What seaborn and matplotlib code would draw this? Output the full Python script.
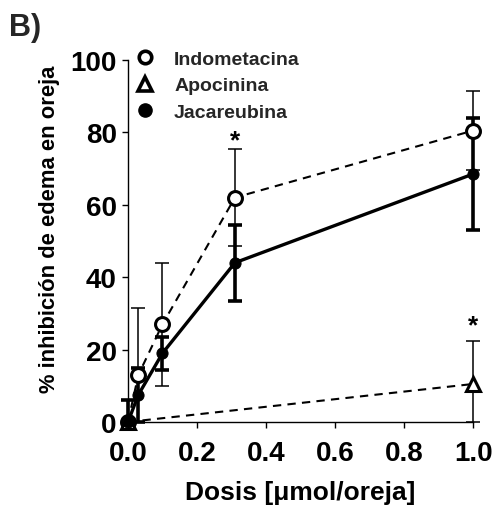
import matplotlib
matplotlib.use("Agg")
import matplotlib.pyplot as plt
import seaborn as sns
import pandas as pd
from matplotlib.lines import Line2D

sns.set_theme(style="ticks")
plt.rcParams['font.family'] = ['Liberation Sans', 'DejaVu Sans']
plt.rcParams['font.weight'] = 'bold'

series = ["Indometacina", "Apocinina", "Jacareubina"]
indo_x = [0.0, 0.03, 0.1, 0.31, 1.0]
indo_y = [0.0, 13.0, 27.0, 62.0, 80.5]
indo_err = [0.0, 18.5, 17.0, 13.5, 11.0]
apo_x = [0.0, 1.0]
apo_y = [0.0, 10.5]
apo_err = [0.0, 11.8]
jac_x = [0.0, 0.03, 0.1, 0.31, 1.0]
jac_y = [0.0, 7.5, 19.0, 44.0, 68.5]
jac_err = [6.0, 7.5, 4.5, 10.5, 15.5]
star_x = [0.31, 1.0]
star_y = [74.5, 23.5]
xticks = [0.0, 0.2, 0.4, 0.6, 0.8, 1.0]
xtick_labels = ["0.0", "0.2", "0.4", "0.6", "0.8", "1.0"]
yticks = [0, 20, 40, 60, 80, 100]


def clipped(y, e):
    # lower error bars stop at the x axis (0 %)
    return [[min(ei, yi) for yi, ei in zip(y, e)], list(e)]


fig = plt.figure(figsize=(4.93, 5.10), dpi=100)
ax = fig.add_axes([0.2596, 0.1706, 0.7, 0.7098])

# error bars
ax.errorbar(indo_x, indo_y, yerr=clipped(indo_y, indo_err), fmt='none', ecolor='black',
            elinewidth=1.1, capsize=5, capthick=1.1, clip_on=False, zorder=2)
ax.errorbar(apo_x[1:], apo_y[1:], yerr=clipped(apo_y[1:], apo_err[1:]), fmt='none',
            ecolor='black', elinewidth=1.1, capsize=5, capthick=1.1, clip_on=False, zorder=2)
ax.errorbar(jac_x, jac_y, yerr=clipped(jac_y, jac_err), fmt='none', ecolor='black',
            elinewidth=2.6, capsize=5, capthick=2.6, clip_on=False, zorder=2)

df_indo = pd.DataFrame({"x": indo_x, "y": indo_y})
df_apo = pd.DataFrame({"x": apo_x, "y": apo_y})
df_jac = pd.DataFrame({"x": jac_x, "y": jac_y})

sns.lineplot(data=df_indo, x="x", y="y", ax=ax, color='black', lw=1.5,
             linestyle=(0, (4, 3)), marker='o', markersize=10,
             markerfacecolor='white', markeredgecolor='black', markeredgewidth=2.2,
             clip_on=False, zorder=3)
sns.lineplot(data=df_apo, x="x", y="y", ax=ax, color='black', lw=1.5,
             linestyle=(0, (4, 3)), marker='^', markersize=10,
             markerfacecolor='white', markeredgecolor='black', markeredgewidth=2.2,
             clip_on=False, zorder=3)
sns.lineplot(data=df_jac, x="x", y="y", ax=ax, color='black', lw=2.4,
             marker='o', markersize=8, markerfacecolor='black',
             markeredgecolor='black', clip_on=False, zorder=4)

for sx, sy in zip(star_x, star_y):
    ax.text(sx, sy, "*", ha='center', va='bottom', fontsize=19,
            fontweight='bold', color='black')

ax.set_xlim(0, 1.0)
ax.set_ylim(0, 100)
ax.set_xticks(xticks)
ax.set_xticklabels(xtick_labels)
ax.set_yticks(yticks)
ax.tick_params(axis='both', labelsize=20, width=1, length=4, color='black',
               labelcolor='black', direction='out', pad=4)
ax.tick_params(axis='x', pad=9)
for lab in ax.get_xticklabels() + ax.get_yticklabels():
    lab.set_fontweight('bold')
sns.despine(ax=ax)
for sp in ['left', 'bottom']:
    ax.spines[sp].set_color('black')
    ax.spines[sp].set_linewidth(1)

ax.set_xlabel("Dosis [μmol/oreja]", fontsize=19, fontweight='bold', color='black', labelpad=10)
ax.set_ylabel("% inhibición de edema en oreja", fontsize=15.8, fontweight='bold', color='black')
ax.yaxis.set_label_coords(-0.197, 0.535)

handles = [
    Line2D([], [], linestyle='none', marker='o', markersize=9, markerfacecolor='white',
           markeredgecolor='black', markeredgewidth=2.6),
    Line2D([], [], linestyle='none', marker='^', markersize=9.5, markerfacecolor='white',
           markeredgecolor='black', markeredgewidth=2.6),
    Line2D([], [], linestyle='none', marker='o', markersize=9.5, markerfacecolor='black',
           markeredgecolor='black'),
]
leg = ax.legend(handles, series, loc='upper left', bbox_to_anchor=(-0.03, 1.075),
                frameon=False, handlelength=1.0, handletextpad=1.0,
                labelspacing=0.45, prop={'size': 14, 'weight': 'bold'})

fig.text(0.018, 0.975, "B)", fontsize=22, fontweight='bold', va='top', ha='left')

fig.savefig("out.png", dpi=100)
